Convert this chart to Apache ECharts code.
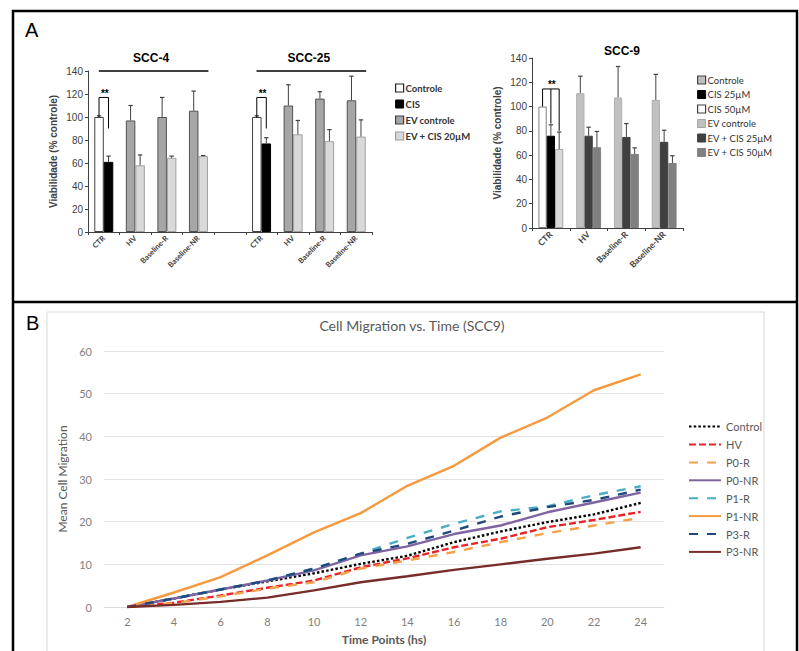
<!DOCTYPE html>
<html><head><meta charset="utf-8">
<script src="https://cdn.jsdelivr.net/npm/echarts@6/dist/echarts.min.js"></script>
<style>html,body{margin:0;padding:0;background:#fff}#c{width:799px;height:651px}</style>
</head><body><div id="c"></div><script>
// ---------- Panel A, left chart (SCC-4 + SCC-25) ----------
const catsA = ['CTR','HV','Baseline-R','Baseline-NR','','CTR','HV','Baseline-R','Baseline-NR'];
const controleA   = [100, null, null, null, null, 100, null, null, null];
const cisA        = [61,  null, null, null, null, 77,  null, null, null];
const evControleA = [null, 97, 100, 105.5, null, null, 110, 116, 114.5];
const evCis20A    = [null, 58, 64.5, 66, null, null, 85, 79, 83];
const errFirstA   = [1, 13, 17, 17, null, 1, 18, 6, 21];
const errSecondA  = [5, 9, 1.5, 0.5, null, 5, 12, 10, 14.5];
const groupNamesA = ['SCC-4','SCC-25'];
const groupFromA  = [0, 5];
const groupToA    = [3, 8];
const groupLevelA = 140;
const bracketCatsA  = [0, 5];
const bracketTopA   = [117, 117];
const bracketDropsA = [[100, 90], [100, 90]];
const yTicksA = {min:0, max:140, interval:20};

// ---------- Panel A, right chart (SCC-9) ----------
const catsC = ['CTR','HV','Baseline-R','Baseline-NR'];
const controleC   = [100, null, null, null];
const cis25C      = [76, null, null, null];
const cis50C      = [65, null, null, null];
const evControleC = [null, 111, 107.5, 105.5];
const evCis25C    = [null, 76, 75, 71];
const evCis50C    = [null, 66.5, 61, 53.5];
const err1C = [0, 14, 25.5, 21];
const err2C = [9, 7, 11, 9.5];
const err3C = [14, 13, 5, 6];
const bracketCatsC  = [0];
const bracketTopC   = [114.5];
const bracketDropsC = [[100, 86, 80]];

// ---------- Panel B (line chart) ----------
const timePoints = ['2','4','6','8','10','12','14','16','18','20','22','24'];
const controlB = [0, 2.0, 4.1, 6.0, 7.9, 10.1, 12.0, 15.2, 17.7, 19.9, 21.7, 24.4];
const hvB      = [0, 1.0, 2.7, 4.5, 6.2, 9.3, 11.4, 14.0, 16.0, 18.7, 20.4, 22.3];
const p0rB     = [0, 0.9, 2.5, 4.3, 5.8, 9.0, 10.9, 12.9, 15.2, 17.3, 19.1, 20.9];
const p0nrB    = [0, 2.0, 4.1, 6.2, 8.6, 12.1, 14.2, 17.1, 19.1, 22.2, 24.5, 26.8];
const p1rB     = [0, 2.0, 4.1, 6.2, 9.0, 12.5, 16.2, 19.5, 22.4, 23.6, 26.2, 28.3];
const p1nrB    = [0, 3.4, 7.0, 12.1, 17.5, 22.0, 28.4, 33.1, 39.7, 44.4, 50.8, 54.5];
const p3rB     = [0, 2.0, 4.1, 6.2, 9.0, 12.5, 14.8, 17.9, 21.2, 23.4, 25.1, 27.5];
const p3nrB    = [0, 0.5, 1.2, 2.2, 3.9, 5.8, 7.2, 8.7, 10.0, 11.3, 12.5, 14.0];

const FA = 'Liberation Sans, Arial, sans-serif';
const FC = 'Lato, Open Sans, sans-serif';
const BW_A = 9.5, BW_C = 8.3;

function pick(a, b){ return a.map((v,i)=> v!=null ? v : b[i]); }
function errData(vals, errs, slot){
  const out=[]; vals.forEach((v,i)=>{ if(v!=null && errs[i]!=null) out.push([i, v, errs[i], slot]); }); return out;
}
function errRender(nSlots, barW){
  return function(params, api){
    const c=api.value(0), v=api.value(1), e=api.value(2), s=api.value(3);
    if(!(e>0)) return null;
    const p0=api.coord([c,v]), p1=api.coord([c,v+e]);
    const x=p0[0]+(s-(nSlots-1)/2)*barW;
    return {type:'group', children:[
      {type:'line', shape:{x1:x,y1:p0[1],x2:x,y2:p1[1]}, style:{stroke:'#404040',lineWidth:1}},
      {type:'line', shape:{x1:x-2.2,y1:p1[1],x2:x+2.2,y2:p1[1]}, style:{stroke:'#404040',lineWidth:1.2}}
    ]};
  };
}
function bracketRender(nSlots, barW, drops){
  return function(params, api){
    const c=api.value(0), top=api.value(1);
    const d=drops[params.dataIndex];
    const pt=api.coord([c,top]);
    const children=[]; const xs=[];
    d.forEach((dv,s)=>{
      if(dv==null) return;
      const x=pt[0]+(s-(nSlots-1)/2)*barW; xs.push(x);
      const py=api.coord([c,dv])[1];
      children.push({type:'line', shape:{x1:x,y1:pt[1],x2:x,y2:py}, style:{stroke:'#000',lineWidth:1}});
    });
    const xa=Math.min(...xs), xb=Math.max(...xs);
    children.push({type:'line', shape:{x1:xa,y1:pt[1],x2:xb,y2:pt[1]}, style:{stroke:'#000',lineWidth:1}});
    children.push({type:'text', style:{text:'**', x:(xa+xb)/2+1, y:pt[1]+1, align:'center', verticalAlign:'bottom', fontSize:10, fontWeight:'bold', fill:'#000', fontFamily:FA}});
    return {type:'group', children};
  };
}
function groupRender(params, api){
  const i=params.dataIndex;
  const p1=api.coord([groupFromA[i], groupLevelA]);
  const p2=api.coord([groupToA[i], groupLevelA]);
  return {type:'group', children:[
    {type:'line', shape:{x1:p1[0]-5,y1:p1[1],x2:p2[0]+10,y2:p1[1]}, style:{stroke:'#000',lineWidth:1.5}},
    {type:'text', style:{text:groupNamesA[i], x:(p1[0]+p2[0])/2, y:p1[1]-13, align:'center', verticalAlign:'middle', fontSize:12, fontWeight:'bold', fill:'#000', fontFamily:FA}}
  ]};
}

const barCommonA = {type:'bar', xAxisIndex:0, yAxisIndex:0, barWidth:BW_A, barGap:'0%'};
const barCommonC = {type:'bar', xAxisIndex:1, yAxisIndex:1, barWidth:BW_C, barGap:'0%'};

function catAxisA(data, gi, fs){
  return {type:'category', gridIndex:gi, data:data,
    axisLine:{lineStyle:{color:'#404040',width:1}},
    axisTick:{show:true,length:3,lineStyle:{color:'#404040'}},
    axisLabel:{interval:0, rotate:45, fontSize:fs, fontWeight:'bold', color:'#404040', fontFamily:FC, margin:5}};
}
function valAxisA(gi){
  return {type:'value', gridIndex:gi, min:yTicksA.min, max:yTicksA.max, interval:yTicksA.interval,
    axisLine:{show:true,lineStyle:{color:'#404040'}}, axisTick:{show:true,length:3,lineStyle:{color:'#404040'}},
    splitLine:{show:false},
    axisLabel:{fontSize:10, color:'#404040', fontFamily:FA, margin:5},
    name:'Viabilidade (% controle)', nameLocation:'middle', nameGap:30,
    nameTextStyle:{fontSize:10, fontWeight:'bold', color:'#404040', fontFamily:FA}};
}

const lineSpecs = [
  ['Control', controlB, '#000000', [2.5,2.2]],
  ['HV', hvB, '#e8242b', [7,3]],
  ['P0-R', p0rB, '#f5a04a', [9,9]],
  ['P0-NR', p0nrB, '#8064a2', 'solid'],
  ['P1-R', p1rB, '#4bacc6', [9,9]],
  ['P1-NR', p1nrB, '#f59a3e', 'solid'],
  ['P3-R', p3rB, '#1f497d', [9,9]],
  ['P3-NR', p3nrB, '#772c2a', 'solid']
];

const option = {
  animation:false,
  backgroundColor:'#fff',
  grid:[
    {left:88, right:799-372, top:71, bottom:651-232},
    {left:532, right:799-683, top:58, bottom:651-228},
    {left:104, right:799-664, top:351, bottom:651-607}
  ],
  title:[
    {text:'SCC-9', left:617, top:40, textAlign:'center', textStyle:{fontSize:12, fontWeight:'bold', color:'#000', fontFamily:FA}},
    {text:'Cell Migration vs. Time (SCC9)', left:407, top:313, textAlign:'center', textStyle:{fontSize:14, fontWeight:'normal', color:'#595959', fontFamily:FC}}
  ],
  legend:[
    {orient:'vertical', left:390, top:78, itemWidth:8, itemHeight:8, itemGap:6, icon:'rect', selectedMode:false,
     textStyle:{fontSize:9.5, fontWeight:'bold', color:'#333', fontFamily:FC, padding:[0,0,0,-3]},
     data:[
      {name:'Controle', itemStyle:{color:'#fff', borderColor:'#222', borderWidth:1.2}},
      {name:'CIS', itemStyle:{color:'#000', borderColor:'#000', borderWidth:1}},
      {name:'EV controle', itemStyle:{color:'#a6a6a6', borderColor:'#404040', borderWidth:1.2}},
      {name:'EV + CIS 20µM', itemStyle:{color:'#d9d9d9', borderColor:'#a0a0a0', borderWidth:1.2}}
     ]},
    {orient:'vertical', left:692, top:70, itemWidth:8, itemHeight:8, itemGap:4.5, icon:'rect', selectedMode:false,
     textStyle:{fontSize:9.5, color:'#333', fontFamily:FC, padding:[0,0,0,-3]},
     data:[
      {name:'Controle', itemStyle:{color:'#bfbfbf', borderColor:'#404040', borderWidth:1.2}},
      {name:'CIS 25µM', itemStyle:{color:'#000', borderColor:'#000', borderWidth:1}},
      {name:'CIS 50µM', itemStyle:{color:'#fff', borderColor:'#404040', borderWidth:1.2}},
      {name:'EV controle', itemStyle:{color:'#c0c0c0', borderColor:'#a6a6a6', borderWidth:1}},
      {name:'EV + CIS 25µM', itemStyle:{color:'#404040', borderColor:'#404040', borderWidth:1}},
      {name:'EV + CIS 50µM', itemStyle:{color:'#808080', borderColor:'#808080', borderWidth:1}}
     ]},
    {orient:'vertical', left:683, top:416, itemWidth:32, itemHeight:14, itemGap:6.7, selectedMode:false,
     itemStyle:{opacity:0, borderWidth:0},
     textStyle:{fontSize:11, color:'#595959', fontFamily:FC},
     data: lineSpecs.map(s=>s[0])}
  ],
  xAxis:[
    catAxisA(catsA, 0, 7.5),
    catAxisA(catsC, 1, 8.5),
    {type:'category', gridIndex:2, data:timePoints, boundaryGap:true,
     axisLine:{lineStyle:{color:'#d9d9d9'}}, axisTick:{show:false},
     axisLabel:{color:'#7f7f7f', fontSize:11, fontFamily:FC, margin:9},
     name:'Time Points (hs)', nameLocation:'middle', nameGap:26,
     nameTextStyle:{fontSize:12, fontWeight:'bold', color:'#595959', fontFamily:FC}}
  ],
  yAxis:[
    valAxisA(0),
    valAxisA(1),
    {type:'value', gridIndex:2, min:0, max:60, interval:10,
     axisLine:{show:false}, axisTick:{show:false},
     splitLine:{lineStyle:{color:'#e3e3e3'}},
     axisLabel:{color:'#7f7f7f', fontSize:11, fontFamily:FC, margin:12},
     name:'Mean Cell Migration', nameLocation:'middle', nameGap:28,
     nameTextStyle:{fontSize:12, color:'#595959', fontFamily:FC}}
  ],
  series:[
    Object.assign({name:'Controle', stack:'a1', data:controleA, itemStyle:{color:'#fff', borderColor:'#404040', borderWidth:1}}, barCommonA),
    Object.assign({name:'CIS', stack:'a2', data:cisA, itemStyle:{color:'#000', borderColor:'#000', borderWidth:1}}, barCommonA),
    Object.assign({name:'EV controle', stack:'a1', data:evControleA, itemStyle:{color:'#a6a6a6', borderColor:'#505050', borderWidth:1}}, barCommonA),
    Object.assign({name:'EV + CIS 20µM', stack:'a2', data:evCis20A, itemStyle:{color:'#d9d9d9', borderColor:'#a0a0a0', borderWidth:1}}, barCommonA),
    {type:'custom', xAxisIndex:0, yAxisIndex:0, silent:true, renderItem:errRender(2, BW_A),
     data: errData(pick(controleA, evControleA), errFirstA, 0).concat(errData(pick(cisA, evCis20A), errSecondA, 1)), z:5},
    {type:'custom', xAxisIndex:0, yAxisIndex:0, silent:true, renderItem:bracketRender(2, BW_A, bracketDropsA),
     data: bracketCatsA.map((c,i)=>[c, bracketTopA[i]]), z:6},
    {type:'custom', xAxisIndex:0, yAxisIndex:0, silent:true, renderItem:groupRender,
     data: groupFromA.map(c=>[c, groupLevelA]), z:6},

    Object.assign({name:'Controle', stack:'c1', data:controleC, itemStyle:{color:'#fff', borderColor:'#808080', borderWidth:1}}, barCommonC),
    Object.assign({name:'CIS 25µM', stack:'c2', data:cis25C, itemStyle:{color:'#000', borderColor:'#000', borderWidth:1}}, barCommonC),
    Object.assign({name:'CIS 50µM', stack:'c3', data:cis50C, itemStyle:{color:'#d9d9d9', borderColor:'#a6a6a6', borderWidth:1}}, barCommonC),
    Object.assign({name:'EV controle', stack:'c1', data:evControleC, itemStyle:{color:'#c0c0c0', borderColor:'#b0b0b0', borderWidth:1}}, barCommonC),
    Object.assign({name:'EV + CIS 25µM', stack:'c2', data:evCis25C, itemStyle:{color:'#404040', borderColor:'#404040', borderWidth:1}}, barCommonC),
    Object.assign({name:'EV + CIS 50µM', stack:'c3', data:evCis50C, itemStyle:{color:'#808080', borderColor:'#808080', borderWidth:1}}, barCommonC),
    {type:'custom', xAxisIndex:1, yAxisIndex:1, silent:true, renderItem:errRender(3, BW_C),
     data: errData(pick(controleC, evControleC), err1C, 0)
       .concat(errData(pick(cis25C, evCis25C), err2C, 1))
       .concat(errData(pick(cis50C, evCis50C), err3C, 2)), z:5},
    {type:'custom', xAxisIndex:1, yAxisIndex:1, silent:true, renderItem:bracketRender(3, BW_C, bracketDropsC),
     data: bracketCatsC.map((c,i)=>[c, bracketTopC[i]]), z:6}
  ].concat(lineSpecs.map(s=>({
    name:s[0], type:'line', xAxisIndex:2, yAxisIndex:2, data:s[1], symbol:'none', showSymbol:false,
    lineStyle:{color:s[2], width:2.4, type:s[3]}, itemStyle:{color:s[2]}
  }))),
  graphic:[
    {type:'rect', shape:{x:47, y:312, width:717, height:349}, style:{fill:'none', stroke:'#d9d9d9', lineWidth:1}, silent:true, z:-1},
    {type:'line', shape:{x1:12, y1:11, x2:798, y2:11}, style:{stroke:'#000', lineWidth:2.5}, silent:true},
    {type:'line', shape:{x1:13, y1:10, x2:13, y2:651}, style:{stroke:'#000', lineWidth:2.5}, silent:true},
    {type:'line', shape:{x1:797, y1:10, x2:797, y2:651}, style:{stroke:'#000', lineWidth:2.5}, silent:true},
    {type:'line', shape:{x1:12, y1:302, x2:798, y2:302}, style:{stroke:'#000', lineWidth:2.5}, silent:true},
    {type:'text', left:25, top:20, style:{text:'A', fontSize:20, fill:'#000', fontFamily:FA}, silent:true},
    {type:'text', left:26, top:313, style:{text:'B', fontSize:20, fill:'#000', fontFamily:FA}, silent:true}
  ]
};
const chart = echarts.init(document.getElementById('c'), null, {renderer:'svg'});
chart.setOption(option);
</script></body></html>
